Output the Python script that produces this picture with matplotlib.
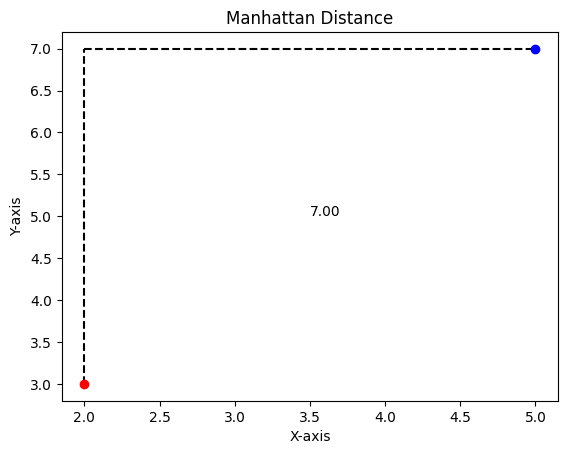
import matplotlib
matplotlib.use('Agg')
import matplotlib.pyplot as plt

# two points and the manhattan path between them
point_a = [2, 3]
point_b = [5, 7]
corner = [point_a[0], point_b[1]]

distance = abs(point_b[0] - point_a[0]) + abs(point_b[1] - point_a[1])

fig = plt.figure(figsize=(5.67, 4.55), dpi=100)
ax = fig.add_axes([0.109, 0.119, 0.875, 0.811])

ax.plot([point_a[0], corner[0]], [point_a[1], corner[1]], 'k--')
ax.plot([corner[0], point_b[0]], [corner[1], point_b[1]], 'k--')
ax.scatter(*point_a, color='red', zorder=3)
ax.scatter(*point_b, color='blue', zorder=3)

mid_x = (point_a[0] + point_b[0]) / 2
mid_y = (point_a[1] + point_b[1]) / 2
ax.text(mid_x, mid_y, f"{distance:.2f}")

ax.set_title('Manhattan Distance')
ax.set_xlabel('X-axis')
ax.set_ylabel('Y-axis')

fig.savefig('out.png', dpi=100)
